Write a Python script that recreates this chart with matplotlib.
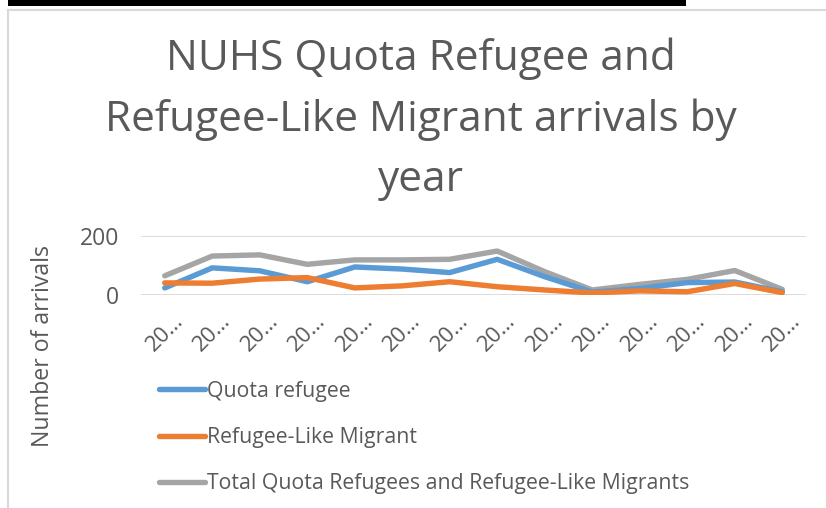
import numpy as np
import matplotlib.pyplot as plt
from matplotlib.patches import Rectangle
from matplotlib.lines import Line2D

plt.rcParams['font.family'] = ['Open Sans', 'DejaVu Sans']

# data
years = ['20\u2026'] * 14
quota = [24, 92, 82, 45, 95, 88, 76, 121, 62, 10, 22, 42, 44, 11]
refugee_like = [41, 40, 54, 59, 24, 31, 45, 28, 17, 7, 14, 11, 39, 8]
total = [q + r for q, r in zip(quota, refugee_like)]

blue = '#5B9BD5'
orange = '#ED7D31'
grey = '#A5A5A5'
txt = '#595959'
grid = '#D9D9D9'

W, H = 826, 508
fig = plt.figure(figsize=(W / 100, H / 100), dpi=100)

# axes placed in pixel terms
l, r, t, b = 141, 806, 236, 295
ax = fig.add_axes([l / W, 1 - b / H, (r - l) / W, (b - t) / H])

x = np.arange(len(years))
ax.plot(x, quota, color=blue, lw=3.9, solid_capstyle='round', label='Quota refugee', zorder=3)
ax.plot(x, refugee_like, color=orange, lw=3.9, solid_capstyle='round', label='Refugee-Like Migrant', zorder=4)
ax.plot(x, total, color=grey, lw=3.9, solid_capstyle='round',
        label='Total Quota Refugees and Refugee-Like Migrants', zorder=2)

ax.set_xlim(-0.5, len(years) - 0.5)
ax.set_ylim(0, 200)
ax.set_yticks([0, 200])
ax.set_xticks(x)
ax.set_xticklabels(years, rotation=45, ha='center', va='top', color=txt, fontsize=16)
ax.tick_params(axis='x', length=0, pad=11)
ax.tick_params(axis='y', length=0, pad=16, labelcolor=txt, labelsize=16.5)
ax.grid(axis='y', color=grid, lw=1.3)
ax.set_axisbelow(True)
for s in ax.spines.values():
    s.set_visible(False)

fig.text(43 / W, 1 - 346 / H, 'Number of arrivals', rotation=90, ha='center', va='center',
         color=txt, fontsize=16.7)

fig.text(421 / W, 1 - 119 / H, 'NUHS Quota Refugee and\nRefugee-Like Migrant arrivals by\nyear',
         ha='center', va='center', color=txt, fontsize=30.5, linespacing=1.57)

handles, labels = ax.get_legend_handles_labels()
leg = fig.legend(handles, labels, loc='upper left', bbox_to_anchor=(150 / W, 1 - 372 / H),
                 frameon=False, fontsize=15.3, handlelength=2.2, handletextpad=0.1,
                 labelspacing=1.2, borderaxespad=0)
for txt_obj in leg.get_texts():
    txt_obj.set_color(txt)

# chart frame and the clipped black rule above it
fig.add_artist(Line2D([8 / W, 8 / W], [0, 1 - 10 / H], color=grid, lw=1.5))
fig.add_artist(Line2D([8 / W, 1], [1 - 10 / H, 1 - 10 / H], color=grid, lw=1.5))
fig.add_artist(Rectangle((8 / W, 1 - 6 / H), (686 - 8) / W, 6 / H, color='black', lw=0))

fig.savefig('out.png', dpi=100)
